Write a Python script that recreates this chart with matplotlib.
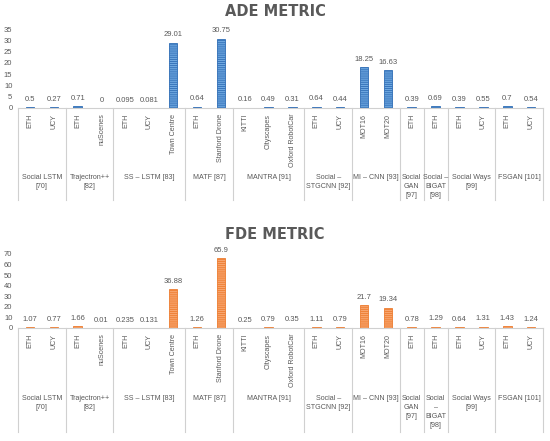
import matplotlib.pyplot as plt
import matplotlib.transforms as mtransforms
import numpy as np

plt.rcParams['font.family'] = ['Liberation Sans', 'DejaVu Sans']
plt.rcParams['hatch.linewidth'] = 0.6

# categorias (nome do grupo, datasets)
grupos = ['Social LSTM\n[70]', 'Trajectron++\n[82]', 'SS \u2013 LSTM [83]', 'MATF [87]',
          'MANTRA [91]', 'Social \u2013\nSTGCNN [92]', 'MI \u2013 CNN [93]', 'Social\nGAN\n[97]',
          'Social \u2013\nBIGAT\n[98]', 'Social Ways\n[99]', 'FSGAN [101]']
grupos_fde = list(grupos)
grupos_fde[8] = 'Social\n\u2013\nBIGAT\n[98]'
tamanhos = [2, 2, 3, 2, 3, 2, 2, 1, 1, 2, 2]
datasets = ['ETH', 'UCY', 'ETH', 'nuScenes', 'ETH', 'UCY', 'Town Centre', 'ETH', 'Stanford Drone',
            'KITTI', 'Cityscapes', 'Oxford RobotCar', 'ETH', 'UCY', 'MOT16', 'MOT20', 'ETH', 'ETH',
            'ETH', 'UCY', 'ETH', 'UCY']

ade = [0.5, 0.27, 0.71, 0, 0.095, 0.081, 29.01, 0.64, 30.75, 0.16, 0.49, 0.31,
       0.64, 0.44, 18.25, 16.63, 0.39, 0.69, 0.39, 0.55, 0.7, 0.54]
fde = [1.07, 0.77, 1.66, 0.01, 0.235, 0.131, 36.88, 1.26, 65.9, 0.25, 0.79, 0.35,
       1.11, 0.79, 21.7, 19.34, 0.78, 1.29, 0.64, 1.31, 1.43, 1.24]

CINZA = '#595959'
LINHA = '#D0D0D0'
FS = 5.5   # numeros
FC = 5.1   # categorias

fig = plt.figure(figsize=(5.5, 4.41), dpi=100)
H = 441.0


def painel(rect, valores, titulo, ymax, passo, face, borda, nomes_grupo,
           y_base, y_titulo, y_grupo, y_fim):
    ax = fig.add_axes(rect)
    x = np.arange(len(valores))
    barras = ax.bar(x, valores, width=0.36, color=face, edgecolor=borda,
                    linewidth=0.6, hatch='--------')
    for b, v in zip(barras, valores):
        ax.annotate(str(v), (b.get_x() + b.get_width() / 2, v), xytext=(0, 3),
                    textcoords='offset points', ha='center', va='bottom',
                    fontsize=FS, color=CINZA)
    ax.set_xlim(-0.5, len(valores) - 0.5)
    ax.set_ylim(0, ymax)
    ax.set_yticks(np.arange(0, ymax + 1, passo))
    ax.tick_params(axis='y', length=0, labelsize=FS, labelcolor=CINZA, pad=4)
    ax.set_xticks(x)
    ax.set_xticklabels(datasets, rotation=90, fontsize=FC, color=CINZA)
    ax.tick_params(axis='x', length=0, pad=4)
    for s in ['top', 'right', 'left']:
        ax.spines[s].set_visible(False)
    ax.spines['bottom'].set_color(LINHA)
    ax.spines['bottom'].set_linewidth(0.8)

    trans = mtransforms.blended_transform_factory(ax.transData, fig.transFigure)
    limites = np.concatenate([[0], np.cumsum(tamanhos)]) - 0.5
    for xb in limites:
        ax.plot([xb, xb], [1 - y_base / H, 1 - y_fim / H], color=LINHA, lw=0.8,
                transform=trans, clip_on=False)
    for i, nome in enumerate(nomes_grupo):
        xc = (limites[i] + limites[i + 1]) / 2
        ax.text(xc, 1 - y_grupo / H, nome, transform=trans, ha='center', va='top',
                fontsize=FC, color=CINZA, linespacing=1.4)
    fig.text(0.5, 1 - y_titulo / H, titulo, ha='center', va='center', fontsize=10.5,
             fontweight='bold', color=CINZA, family=['DejaVu Sans'])
    return ax


painel([18 / 550, 1 - 108 / H, 525 / 550, 79 / H], ade, 'ADE METRIC', 35, 5,
       '#6FA8E0', '#2F6DB5', grupos, 108, 12, 174, 200)
painel([18 / 550, 1 - 328 / H, 525 / 550, 74 / H], fde, 'FDE METRIC', 70, 10,
       '#F8A56E', '#ED7D31', grupos_fde, 328, 235, 395, 432)

fig.savefig('out.png', dpi=100)
